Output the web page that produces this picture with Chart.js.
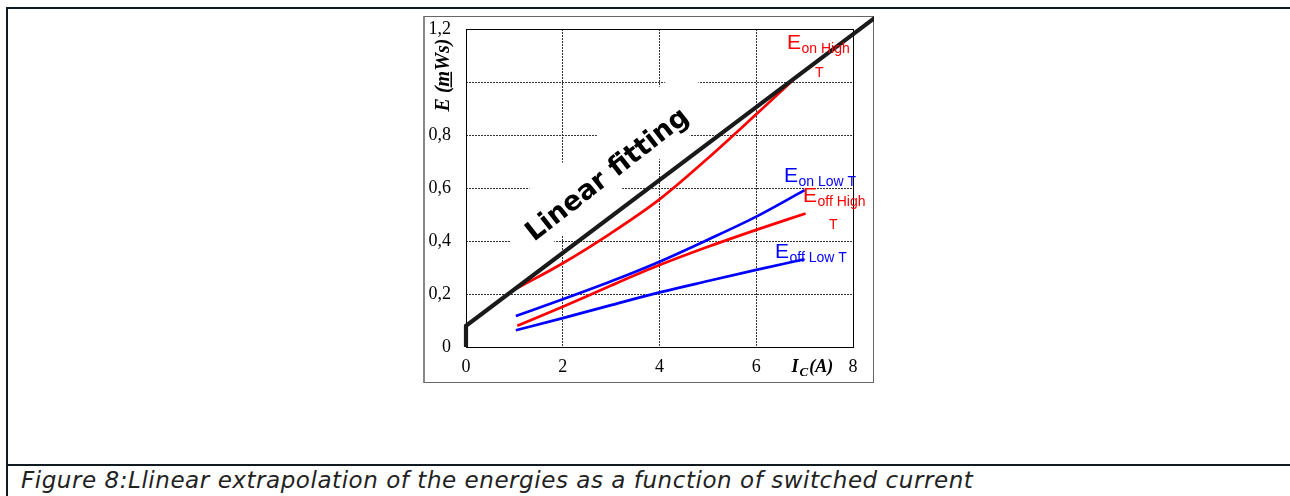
<!DOCTYPE html>
<html><head><meta charset="utf-8">
<script src="https://cdn.jsdelivr.net/npm/chart.js@4.4.0/dist/chart.umd.min.js"></script>
<style>
html,body{margin:0;padding:0;background:#fff;width:1290px;height:496px;overflow:hidden;position:relative;}
#topline{position:absolute;left:6px;top:7px;width:1284px;height:2px;background:#111a20;}
#leftline{position:absolute;left:6px;top:7px;width:2px;height:489px;background:#111a20;}
#midline{position:absolute;left:6px;top:464px;width:1284px;height:2px;background:#111a20;}
#caption{position:absolute;left:21px;top:467px;font:italic 23px "DejaVu Sans";letter-spacing:0.55px;color:#222;white-space:nowrap;}
#box{position:absolute;left:423px;top:16px;width:451px;height:367px;box-sizing:border-box;border:1px solid #666;border-left:2px solid #888;}
#wrap{position:absolute;left:423px;top:16px;width:451px;height:367px;}
</style></head>
<body>
<div id="topline"></div><div id="leftline"></div><div id="midline"></div>
<div id="box"></div>
<div id="wrap"><canvas id="c" width="451" height="367"></canvas></div>
<div id="caption">Figure 8:Llinear extrapolation of the energies as a function of switched current</div>
<script>
// ---- data ----
const xTickLabels = ['0', '2', '4', '6', '8'];
const yTickLabels = ['0', '0,2', '0,4', '0,6', '0,8', '', '1,2'];
const fitX = [0, 0, 8.45];
const fitY = [0, 0.08, 1.242];
const eonHighX = [1.05, 2, 3, 4, 5, 6, 6.77];
const eonHighY = [0.221, 0.316, 0.43, 0.557, 0.712, 0.878, 1.008];
const eonLowX = [1.03, 2, 3, 4, 5, 6, 7.0];
const eonLowY = [0.117, 0.18, 0.248, 0.322, 0.405, 0.492, 0.592];
const eoffHighX = [1.06, 2, 3, 4, 5, 6, 7.02];
const eoffHighY = [0.08, 0.152, 0.232, 0.309, 0.378, 0.442, 0.504];
const eoffLowX = [1.03, 2, 3, 4, 5, 6, 7.0];
const eoffLowY = [0.063, 0.109, 0.158, 0.206, 0.249, 0.291, 0.331];

const pts = (xs, ys) => xs.map((x, i) => ({x: x, y: ys[i]}));

const RED = '#ff0000', BLUE = '#0000ff', BLACK = '#1a1a1a';
const ANG = -38 * Math.PI / 180;

const deco = {
  id: 'deco',
  beforeDatasetsDraw(chart) {
    const ctx = chart.ctx, a = chart.chartArea;
    // white box behind "Linear fitting"
    ctx.save();
    ctx.translate(183.4, 148.5);
    ctx.rotate(ANG);
    ctx.fillStyle = '#fff';
    ctx.fillRect(-123, -28.5, 246, 57);
    ctx.restore();
    // plot frame
    ctx.save();
    ctx.strokeStyle = '#000';
    ctx.lineWidth = 1;
    ctx.strokeRect(a.left + 0.5, a.top + 0.5, a.right - a.left, a.bottom - a.top);
    ctx.restore();
  },
  afterDatasetsDraw(chart) {
    const ctx = chart.ctx, xs = chart.scales.x, ys = chart.scales.y;
    ctx.save();
    // Linear fitting text
    ctx.save();
    ctx.translate(111, 226);
    ctx.rotate(ANG);
    ctx.fillStyle = '#000';
    ctx.font = 'bold 27px "DejaVu Sans"';
    ctx.textAlign = 'left';
    ctx.textBaseline = 'alphabetic';
    ctx.fillText('Linear fitting', 0, 0);
    ctx.restore();
    // series labels
    const lab = (x, y, sub, color, tail) => {
      const px = xs.getPixelForValue(x), py = ys.getPixelForValue(y);
      ctx.fillStyle = color;
      ctx.textAlign = 'left';
      ctx.textBaseline = 'alphabetic';
      ctx.font = '21px "Liberation Sans"';
      ctx.fillText('E', px, py);
      ctx.font = '14px "Liberation Sans"';
      ctx.fillText(sub, px + 14.5, py + 4);
      if (tail) ctx.fillText('T', xs.getPixelForValue(tail[0]), ys.getPixelForValue(tail[1]));
    };
    lab(6.635, 1.1245, 'on High', RED, [7.215, 1.019]);
    lab(6.574, 0.624, 'on Low T', BLUE, null);
    lab(6.966, 0.548, 'off High', RED, [7.504, 0.444]);
    lab(6.388, 0.335, 'off Low T', BLUE, null);
    // y axis title
    ctx.save();
    ctx.translate(26, 59);
    ctx.rotate(-Math.PI / 2);
    ctx.fillStyle = '#000';
    ctx.font = 'bold italic 20px "Liberation Serif"';
    ctx.textAlign = 'left';
    ctx.textBaseline = 'alphabetic';
    const title = 'E (mWs)';
    const tw = ctx.measureText(title).width;
    const x0 = -tw / 2;
    ctx.fillText(title, x0, 0);
    const mStart = x0 + ctx.measureText('E (').width;
    const mW = ctx.measureText('m').width;
    ctx.fillRect(mStart - 1, 1.5, mW, 1.5);
    ctx.restore();
    // x axis title
    ctx.fillStyle = '#000';
    ctx.textAlign = 'left';
    ctx.textBaseline = 'alphabetic';
    let tx = 368.5, ty = 355.5;
    ctx.font = 'bold italic 18px "Liberation Serif"';
    ctx.fillText('I', tx, ty);
    tx += ctx.measureText('I').width + 1;
    ctx.font = 'bold italic 13px "Liberation Serif"';
    ctx.fillText('C', tx, ty + 4);
    tx += ctx.measureText('C').width + 1;
    ctx.font = 'bold italic 18px "Liberation Serif"';
    ctx.fillText('(A)', tx, ty);
    ctx.restore();
  }
};

const lineDs = (label, data, color, w) => ({
  label, data, borderColor: color, borderWidth: w, pointRadius: 0,
  cubicInterpolationMode: 'monotone', fill: false
});

new Chart(document.getElementById('c'), {
  type: 'line',
  data: {
    datasets: [
      Object.assign(lineDs('Linear fitting', pts(fitX, fitY), BLACK, 4.2), {tension: 0, cubicInterpolationMode: 'default', clip: false}),
      lineDs('Eon High T', pts(eonHighX, eonHighY), RED, 2.7),
      lineDs('Eon Low T', pts(eonLowX, eonLowY), BLUE, 2.7),
      lineDs('Eoff High T', pts(eoffHighX, eoffHighY), RED, 2.7),
      lineDs('Eoff Low T', pts(eoffLowX, eoffLowY), BLUE, 2.7)
    ]
  },
  options: {
    responsive: false,
    animation: false,
    devicePixelRatio: 1,
    layout: {padding: {left: 0, right: 21, top: 13, bottom: 0}},
    plugins: {legend: {display: false}, tooltip: {enabled: false}},
    scales: {
      x: {
        type: 'linear', min: 0, max: 8,
        afterFit: s => { s.height = 36; s.paddingLeft = 0; s.paddingRight = 0; },
        ticks: {stepSize: 2, padding: 9, color: '#000', maxRotation: 0,
          font: {family: '"Liberation Serif"', size: 18},
          callback: (v, i) => xTickLabels[i]},
        grid: {color: '#333', lineWidth: 1, drawTicks: false},
        border: {display: false, dash: [2, 1]}
      },
      y: {
        type: 'linear', min: 0, max: 1.2,
        afterFit: s => { s.width = 43; s.paddingTop = 0; s.paddingBottom = 0; },
        ticks: {stepSize: 0.2, padding: 15, color: '#000',
          font: {family: '"Liberation Serif"', size: 18},
          callback: (v, i) => yTickLabels[i]},
        grid: {color: '#333', lineWidth: 1, drawTicks: false},
        border: {display: false, dash: [2, 1]}
      }
    }
  },
  plugins: [deco]
});
</script>
</body></html>
